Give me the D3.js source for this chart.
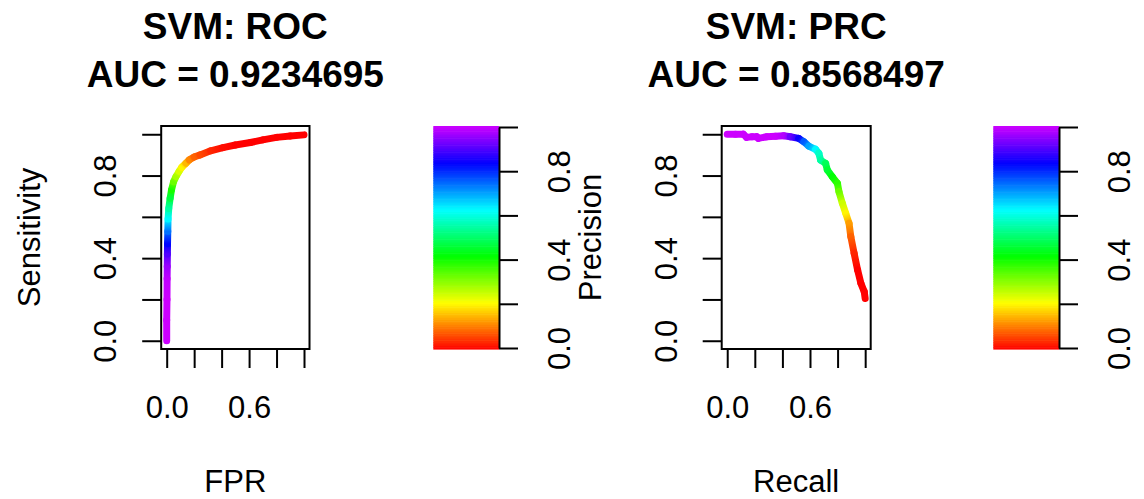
<!DOCTYPE html>
<html>
<head>
<meta charset="utf-8">
<script src="https://cdn.jsdelivr.net/npm/d3@7"></script>
<style>
  body { margin: 0; background: #fff; }
  svg { font-family: "Liberation Sans", Arial, Helvetica, sans-serif; }
  .title { font-size: 37px; font-weight: bold; text-anchor: middle; }
  .lab { font-size: 31px; text-anchor: middle; }
  .tick line, .domain { stroke: #000; stroke-width: 2px; }
  .tick text { font-size: 31px; fill: #000; font-family: "Liberation Sans", Arial, Helvetica, sans-serif; }
</style>
</head>
<body>
<svg id="chart"></svg>
<script>
// ROC curve (cutoff = colour position 0..1)
const rocFpr = [0.000, 0.000, 0.002, 0.003, 0.004, 0.005, 0.006, 0.008, 0.010, 0.015, 0.025, 0.035, 0.050, 0.068, 0.090, 0.110, 0.140, 0.165, 0.200, 0.243, 0.320, 0.410, 0.500, 0.610, 0.700, 0.800, 0.900, 1.000];
const rocTpr = [0.000, 0.100, 0.200, 0.300, 0.360, 0.420, 0.470, 0.530, 0.590, 0.640, 0.690, 0.730, 0.770, 0.795, 0.820, 0.840, 0.860, 0.876, 0.890, 0.900, 0.920, 0.935, 0.948, 0.960, 0.973, 0.985, 0.992, 0.997];
const rocCut = [1.00, 1.00, 1.00, 0.99, 0.96, 0.90, 0.83, 0.74, 0.63, 0.55, 0.47, 0.40, 0.33, 0.28, 0.24, 0.20, 0.15, 0.11, 0.08, 0.06, 0.03, 0.01, 0.00, 0.00, 0.00, 0.00, 0.00, 0.00];

// Precision / recall curve
const prcRecall = [0.000, 0.060, 0.117, 0.140, 0.180, 0.214, 0.226, 0.287, 0.350, 0.409, 0.457, 0.518, 0.555, 0.591, 0.640, 0.664, 0.677, 0.713, 0.726, 0.762, 0.799, 0.810, 0.835, 0.859, 0.883, 0.896, 0.920, 0.945, 0.969, 0.993, 1.000];
const prcPrecision = [1.000, 1.000, 1.000, 0.985, 0.988, 0.988, 0.980, 0.988, 0.990, 0.993, 0.988, 0.980, 0.964, 0.943, 0.927, 0.908, 0.875, 0.859, 0.827, 0.794, 0.762, 0.722, 0.665, 0.617, 0.569, 0.504, 0.423, 0.343, 0.278, 0.238, 0.205];
const prcCut = [1.00, 1.00, 1.00, 1.00, 1.00, 1.00, 1.00, 1.00, 1.00, 0.98, 0.92, 0.84, 0.76, 0.70, 0.63, 0.58, 0.55, 0.49, 0.46, 0.42, 0.38, 0.33, 0.25, 0.20, 0.13, 0.08, 0.03, 0.00, 0.00, 0.00, 0.00];

const axisTicks = [0, 0.2, 0.4, 0.6, 0.8, 1];
const xTickLabels = ['0.0', '0.6'];
const yTickLabels = ['0.0', '0.4', '0.8'];
const barTickLabels = ['0.0', '0.4', '0.8'];

const width = 1144;
const height = 499;
const svg = d3.select('#chart').attr('width', width).attr('height', height);
const defs = svg.append('defs');

const hue = d3.scaleLinear().domain([0, 1]).range([0, 288]);
const colorOf = v => d3.hsl(hue(v), 1, 0.5).formatHex();
const fmt = d3.format('.1f');

const TICK = 19;

drawCurve = (g, xs, ys, cs, x, y, id) => {
    for (let i = 0; i < xs.length - 1; i++) {
        const x1 = x(xs[i]), y1 = y(ys[i]), x2 = x(xs[i + 1]), y2 = y(ys[i + 1]);
        let stroke = colorOf(cs[i]);
        if (cs[i] !== cs[i + 1]) {
            const grad = defs.append('linearGradient')
                .attr('id', `${id}-${i}`)
                .attr('gradientUnits', 'userSpaceOnUse')
                .attr('x1', x1).attr('y1', y1).attr('x2', x2).attr('y2', y2);
            grad.append('stop').attr('offset', 0).attr('stop-color', colorOf(cs[i]));
            grad.append('stop').attr('offset', 1).attr('stop-color', colorOf(cs[i + 1]));
            stroke = `url(#${id}-${i})`;
        }
        g.append('line')
            .attr('x1', x1).attr('y1', y1).attr('x2', x2).attr('y2', y2)
            .attr('stroke', stroke)
            .attr('stroke-width', 7)
            .attr('stroke-linecap', 'round');
    }
};

drawPanel = (p) => {
    const x = d3.scaleLinear().domain([-0.04, 1.04]).range([p.left, p.right]);
    const y = d3.scaleLinear().domain([-0.04, 1.04]).range([p.bottom, p.top]);
    const cx = (p.left + p.right) / 2;

    // curve, clipped to the plot box
    defs.append('clipPath').attr('id', p.id + '-clip')
        .append('rect')
        .attr('x', p.left).attr('y', p.top)
        .attr('width', p.right - p.left).attr('height', p.bottom - p.top);
    const cg = svg.append('g').attr('clip-path', `url(#${p.id}-clip)`);
    drawCurve(cg, p.xs, p.ys, p.cs, x, y, p.id);

    // box
    svg.append('rect')
        .attr('x', p.left).attr('y', p.top)
        .attr('width', p.right - p.left).attr('height', p.bottom - p.top)
        .attr('fill', 'none').attr('stroke', '#000').attr('stroke-width', 2);

    // x axis
    const xa = svg.append('g')
        .attr('transform', `translate(0,${p.bottom})`)
        .call(d3.axisBottom(x).tickValues(axisTicks).tickSize(TICK).tickSizeOuter(0)
            .tickFormat(d => xTickLabels.includes(fmt(d)) ? fmt(d) : ''));
    xa.select('.domain').remove();
    xa.selectAll('.tick text').attr('y', 418 - p.bottom).attr('dy', 0);

    // y axis (labels parallel to the axis)
    const ya = svg.append('g')
        .attr('transform', `translate(${p.left},0)`)
        .call(d3.axisLeft(y).tickValues(axisTicks).tickSize(TICK).tickSizeOuter(0)
            .tickFormat(d => yTickLabels.includes(fmt(d)) ? fmt(d) : ''));
    ya.select('.domain').remove();
    ya.selectAll('.tick text')
        .attr('x', null).attr('dy', 0)
        .attr('text-anchor', 'middle')
        .attr('transform', 'translate(-45,0) rotate(-90)');

    // titles
    svg.append('text').attr('class', 'title').attr('x', cx).attr('y', 39).text(p.title);
    svg.append('text').attr('class', 'title').attr('x', cx).attr('y', 87).text(p.sub);
    svg.append('text').attr('class', 'lab').attr('x', cx).attr('y', 492).text(p.xlab);
    svg.append('text').attr('class', 'lab')
        .attr('transform', `translate(${p.left - 121},${(p.top + p.bottom) / 2}) rotate(-90)`)
        .text(p.ylab);
};

drawColorbar = (left, right) => {
    const top = 126, bottom = 349;
    const yb = d3.scaleLinear().domain([0, 1]).range([348, 127]);
    const steps = d3.range(0, 1, 1 / 128);
    const band = (bottom - top) / steps.length;
    svg.append('g').selectAll('rect')
        .data(steps)
        .join('rect')
        .attr('x', left)
        .attr('width', right - left)
        .attr('y', (d, i) => bottom - (i + 1) * band)
        .attr('height', band + 0.6)
        .attr('fill', d => colorOf(d + 0.5 / steps.length));

    const ba = svg.append('g')
        .attr('transform', `translate(${right},0)`)
        .call(d3.axisRight(yb).tickValues(axisTicks).tickSize(TICK).tickSizeOuter(0)
            .tickFormat(d => barTickLabels.includes(fmt(d)) ? fmt(d) : ''));
    ba.selectAll('.tick text')
        .attr('x', null).attr('dy', 0)
        .attr('text-anchor', 'middle')
        .attr('transform', 'translate(71,0) rotate(-90)');
};

drawPanel({
    id: 'roc', left: 161.2, right: 309.5, top: 126, bottom: 349,
    xs: rocFpr, ys: rocTpr, cs: rocCut,
    title: 'SVM: ROC', sub: 'AUC = 0.9234695', xlab: 'FPR', ylab: 'Sensitivity'
});
drawColorbar(433.3, 499);

drawPanel({
    id: 'prc', left: 721.7, right: 870.7, top: 126, bottom: 349,
    xs: prcRecall, ys: prcPrecision, cs: prcCut,
    title: 'SVM: PRC', sub: 'AUC = 0.8568497', xlab: 'Recall', ylab: 'Precision'
});
drawColorbar(993.3, 1059);
</script>
</body>
</html>
